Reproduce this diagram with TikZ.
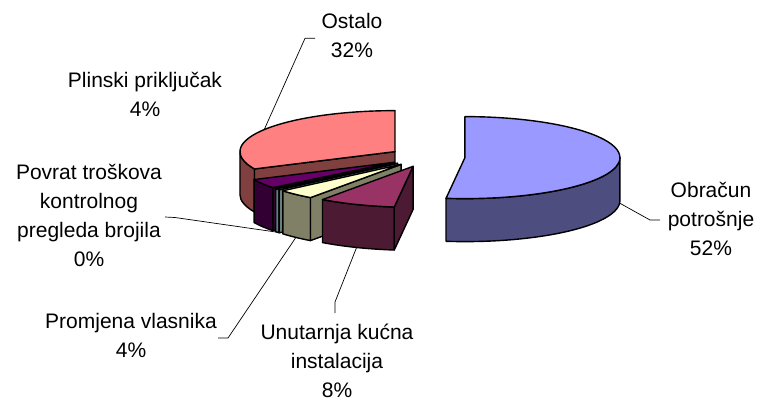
\documentclass[tikz,border=0pt]{standalone}
\usepackage{fontspec}
\setmainfont{Liberation Sans}
\usetikzlibrary{calc}
\definecolor{blueTop}{HTML}{9999FF}
\definecolor{blueSide}{HTML}{4D4D80}
\definecolor{unTop}{HTML}{993366}
\definecolor{unSide}{HTML}{4D1A33}
\definecolor{prTop}{HTML}{FFFFCC}
\definecolor{prSide}{HTML}{808066}
\definecolor{poTop}{HTML}{CCFFFF}
\definecolor{poSide}{HTML}{668080}
\definecolor{plTop}{HTML}{660066}
\definecolor{plSide}{HTML}{330033}
\definecolor{osTop}{HTML}{FF8080}
\definecolor{osSide}{HTML}{804040}
\tikzset{
  face/.style={draw=black, line width=1.4bp, line join=round},
  leader/.style={draw=black, line width=0.7bp},
  lab/.style={font=\fontsize{21bp}{29bp}\selectfont, align=center, inner sep=0pt, anchor=north},
}
% outer side: #1 centre, #2 start angle, #3 end angle, #4 colour
\newcommand\pieSide[4]{%
  \path[face, fill=#4] ($(#1)+(#2:155bp and 41bp)$)
    arc[start angle=#2, end angle=#3, x radius=155bp, y radius=41bp]
    -- ++(0,-43bp)
    arc[start angle=#3, end angle=#2, x radius=155bp, y radius=41bp] -- cycle;}
% radial face: #1 centre, #2 angle, #3 colour
\newcommand\pieRadial[3]{%
  \path[face, fill=#3] (#1) -- ($(#1)+(#2:155bp and 41bp)$) -- ++(0,-43bp)
    -- ($(#1)+(0,-43bp)$) -- cycle;}
% top face: #1 centre, #2 start, #3 end, #4 colour
\newcommand\pieTop[4]{%
  \path[face, fill=#4] (#1) -- ($(#1)+(#2:155bp and 41bp)$)
    arc[start angle=#2, end angle=#3, x radius=155bp, y radius=41bp] -- cycle;}
\begin{document}
\begin{tikzpicture}[x=1bp,y=1bp]
\useasboundingbox (0,0) rectangle (758,401);
\coordinate (C0) at (427,244);
\coordinate (Pos) at ($(C0)+(-212.5:38bp and 10bp)$);
\coordinate (Ppl) at ($(C0)+(-148.4:38bp and 10bp)$);
\coordinate (Ppo) at ($(C0)+(-140.8:38bp and 10bp)$);
\coordinate (Ppr) at ($(C0)+(-132.8:38bp and 10bp)$);
\coordinate (Pun) at ($(C0)+(-111.4:38bp and 10bp)$);
\coordinate (Pbl) at ($(C0)+(-3.5:38bp and 10bp)$);
% Ostalo
\pieSide{Pos}{-180}{-155}{osSide}
\pieRadial{Pos}{-155}{osSide}
\pieTop{Pos}{-270}{-155}{osTop}
% Plinski prikljucak
\pieSide{Ppl}{-155}{-141.8}{plSide}
\pieRadial{Ppl}{-141.8}{plSide}
\pieTop{Ppl}{-155}{-141.8}{plTop}
% Povrat
\pieSide{Ppo}{-141.8}{-139.8}{poSide}
\pieRadial{Ppo}{-139.8}{poSide}
\pieTop{Ppo}{-141.8}{-139.8}{poTop}
% Promjena vlasnika
\pieSide{Ppr}{-139.8}{-125.8}{prSide}
\pieRadial{Ppr}{-125.8}{prSide}
\pieTop{Ppr}{-139.8}{-125.8}{prTop}
% Unutarnja
\pieSide{Pun}{-125.8}{-97}{unSide}
\pieRadial{Pun}{-97}{unSide}
\pieTop{Pun}{-125.8}{-97}{unTop}
% Obracun
\pieSide{Pbl}{-97}{0}{blueSide}
\pieTop{Pbl}{-97}{90}{blueTop}

% labels
\node[lab] (lOs) at (352,389) {\rule{0pt}{16bp}Ostalo\\32\%};
\node[lab] (lPl) at (145,330) {\rule{0pt}{16bp}Plinski priključak\\4\%};
\node[lab] (lPo) at (89,238) {\rule{0pt}{16bp}Povrat troškova\\kontrolnog\\pregleda brojila\\0\%};
\node[lab] (lPr) at (131,89) {\rule{0pt}{16bp}Promjena vlasnika\\4\%};
\node[lab] (lUn) at (337,78) {\rule{0pt}{16bp}Unutarnja kućna\\instalacija\\8\%};
\node[lab] (lBl) at (711,220) {\rule{0pt}{16bp}Obračun\\potrošnje\\52\%};

% leader lines
\coordinate (eOs) at ($(Pos)+(147.5:155bp and 41bp)$);
\coordinate (eOs1) at (305,362.7);
\coordinate (eOs2) at (315,362.7);
\draw[leader] (eOs) -- (eOs1) -- (eOs2);
\coordinate (ePo) at ($(Ppo)+(-140.8:155bp and 41bp)+(0,-43bp)$);
\coordinate (ePo1) at (175,183.5);
\coordinate (ePo2) at (165,184);
\draw[leader] (ePo) -- (ePo1) -- (ePo2);
\coordinate (ePr) at ($(Ppr)+(-132.8:155bp and 41bp)+(0,-43bp)$);
\coordinate (ePr1) at (228,63);
\coordinate (ePr2) at (218,63);
\draw[leader] (ePr) -- (ePr1) -- (ePr2);
\coordinate (eUn) at ($(Pun)+(-111.4:155bp and 41bp)+(0,-43bp)$);
\coordinate (eUn1) at (335,99);
\coordinate (eUn2) at (335,88);
\draw[leader] (eUn) -- (eUn1) -- (eUn2);
\coordinate (eBl) at ($(Pbl)+(-3.5:155bp and 41bp)+(0,-43bp)$);
\coordinate (eBl1) at (650,181);
\coordinate (eBl2) at (660,181);
\draw[leader] (eBl) -- (eBl1) -- (eBl2);
\end{tikzpicture}
\end{document}
